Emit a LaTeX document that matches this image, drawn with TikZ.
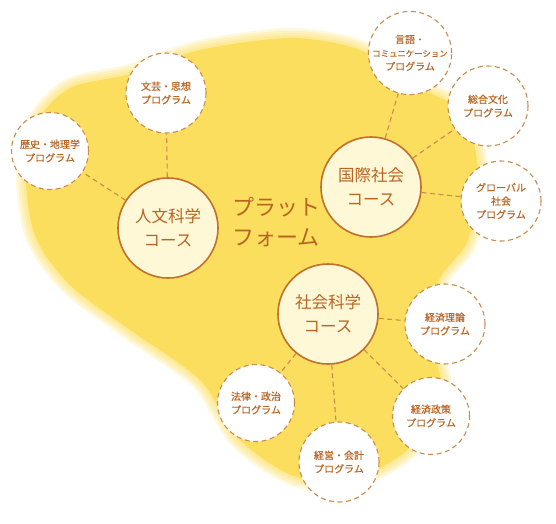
\documentclass[tikz,border=0pt]{standalone}
\usepackage{fontspec}
\newfontfamily\jp{Noto Sans CJK JP}
\newfontfamily\jpb[FakeBold=0.4]{Noto Sans CJK JP}
\definecolor{blobyellow}{HTML}{FCDE5E}
\definecolor{cream}{HTML}{FFF8D6}
\definecolor{ringbrown}{HTML}{C0702A}
\definecolor{textbrown}{HTML}{B86424}
\definecolor{dashbrown}{HTML}{C98B4E}
\begin{document}
\begin{tikzpicture}[x=1pt, y=-1pt,
  course/.style={draw=ringbrown, line width=1.6pt, fill=cream, circle, minimum size=100pt,
    inner sep=0pt, align=center, text=textbrown, font=\jp\fontsize{16.5}{24}\selectfont},
  prog/.style={draw=dashbrown, line width=1.1pt, dash pattern=on 5pt off 3.5pt, fill=white,
    circle, minimum size=80pt, inner sep=0pt, align=center, text=textbrown,
    font=\jpb\fontsize{10}{13.5}\selectfont},
  link/.style={draw=dashbrown, line width=1.1pt, dash pattern=on 5pt off 3.5pt}]
  \useasboundingbox (0,0) rectangle (556,523);
  % yellow background with soft edge
  \def\blob{plot[smooth cycle] coordinates {(35,125) (70,88) (130,74) (200,50) (290,38)
    (360,50) (420,88) (462,112) (478,170) (468,240) (440,278) (428,330) (442,390)
    (418,440) (370,472) (300,478) (240,440) (200,380) (130,330) (70,285) (36,238) (26,180)}}
  \foreach \w in {20,15,10,5}
    \draw[blobyellow, line width=\w pt, opacity=0.22] \blob;
  \fill[blobyellow] \blob;
  % courses
  \node[course] (jinbun) at (168,228) {人文科学\\コース};
  \node[course] (kokusai) at (371,187) {国際社会\\コース};
  \node[course] (shakai) at (328,314) {社会科学\\コース};
  \node[text=textbrown, align=center, font=\jp\fontsize{22}{30}\selectfont] (platform) at (276,222) {プラット\\フォーム};
  % programs
  \node[prog, minimum size=77pt] (rekishi) at (50,151) {歴史・地理学\\プログラム};
  \node[prog] (bungei) at (166,93) {文芸・思想\\プログラム};
  \node[prog, minimum size=83pt] (gengo) at (410,53) {言語・\\{\fontsize{8.4}{11}\selectfont コミュニケーション}\\プログラム};
  \node[prog] (sogo) at (488,106) {総合文化\\プログラム};
  \node[prog] (global) at (501,201) {グローバル\\社会\\プログラム};
  \node[prog] (riron) at (445,324) {経済理論\\プログラム};
  \node[prog, minimum size=77pt] (horitsu) at (256,403) {法律・政治\\プログラム};
  \node[prog] (keiei) at (339,462) {経営・会計\\プログラム};
  \node[prog, minimum size=77pt] (seisaku) at (431,416) {経済政策\\プログラム};
  % connectors
  \draw[link] (jinbun) -- (rekishi);
  \draw[link] (jinbun) -- (bungei);
  \draw[link] (kokusai) -- (gengo);
  \draw[link] (kokusai) -- (sogo);
  \draw[link] (kokusai) -- (global);
  \draw[link] (shakai) -- (riron);
  \draw[link] (shakai) -- (horitsu);
  \draw[link] (shakai) -- (keiei);
  \draw[link] (shakai) -- (seisaku);
\end{tikzpicture}
\end{document}
